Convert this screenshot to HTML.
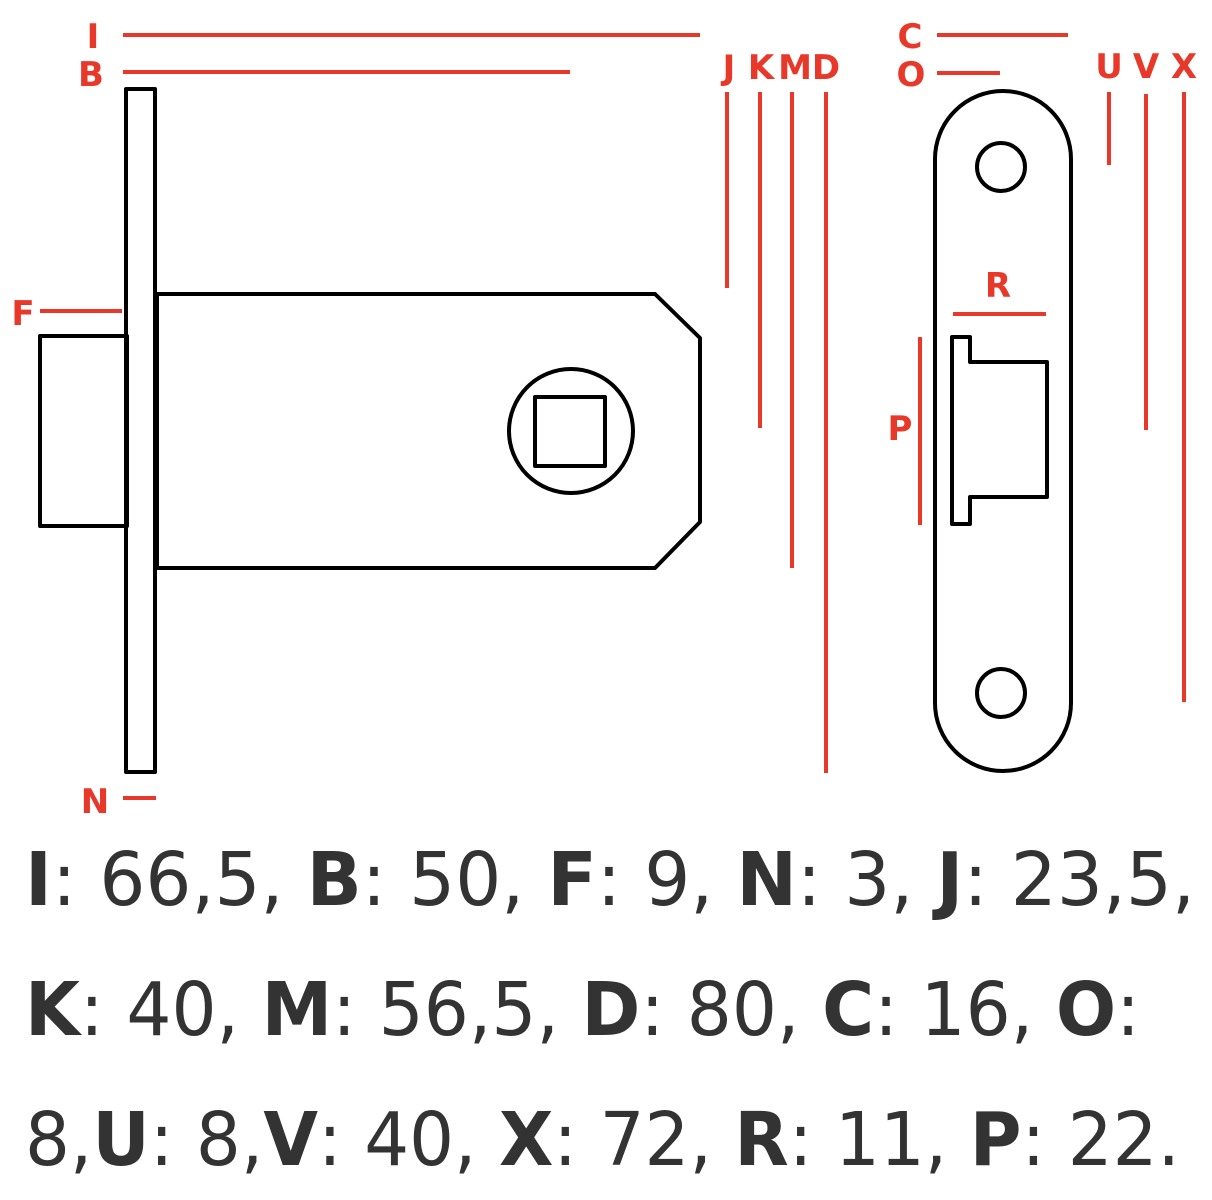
<!DOCTYPE html>
<html><head><meta charset="utf-8"><style>html,body{margin:0;padding:0;background:#fff}svg{display:block}</style></head>
<body>
<svg width="1212" height="1200" viewBox="0 0 1212 1200" xmlns="http://www.w3.org/2000/svg">
<g stroke="#e8382a" stroke-width="4" fill="none">
<line x1="123" y1="35" x2="700" y2="35"/>
<line x1="123" y1="72" x2="570" y2="72"/>
<line x1="40" y1="311" x2="122" y2="311"/>
<line x1="123" y1="798" x2="156" y2="798"/>
<line x1="727" y1="92" x2="727" y2="288"/>
<line x1="760" y1="92" x2="760" y2="428"/>
<line x1="792" y1="92" x2="792" y2="568"/>
<line x1="826" y1="92" x2="826" y2="773"/>
<line x1="937" y1="35" x2="1068" y2="35"/>
<line x1="937" y1="73" x2="1000" y2="73"/>
<line x1="1109" y1="92" x2="1109" y2="165"/>
<line x1="1146" y1="94" x2="1146" y2="430"/>
<line x1="1184" y1="92" x2="1184" y2="702"/>
<line x1="953" y1="314" x2="1046" y2="314"/>
<line x1="920" y1="337" x2="920" y2="525"/>
</g>
<g fill="#e8382a" font-family="'DejaVu Sans',sans-serif" font-weight="bold" font-size="34" text-anchor="middle">
<text x="93" y="48">I</text>
<text x="91" y="86">B</text>
<text x="23" y="325">F</text>
<text x="95" y="813">N</text>
<text x="729" y="79">J</text>
<text x="761" y="79">K</text>
<text x="795" y="79">M</text>
<text x="826" y="79">D</text>
<text x="910" y="48">C</text>
<text x="911" y="86">O</text>
<text x="1109" y="78">U</text>
<text x="1146" y="78">V</text>
<text x="1184" y="78">X</text>
<text x="998" y="297">R</text>
<text x="900" y="440">P</text>
</g>
<g stroke="#000" stroke-width="4" fill="none" stroke-linejoin="round">
<rect x="126" y="89" width="29" height="683"/>
<polygon points="157,294 655,294 700,338 700,522 655,568 157,568"/>
<rect x="40" y="336" width="87" height="190"/>
<circle cx="571" cy="431" r="62"/>
<rect x="535" y="397" width="70" height="69"/>
<rect x="935" y="91" width="136" height="680" rx="68" ry="68"/>
<circle cx="1001" cy="167" r="24"/>
<circle cx="1001" cy="693" r="24"/>
<polygon points="952,337 970,337 970,362 1047,362 1047,497 970,497 970,524 952,524"/>
</g>
<g font-family="'DejaVu Sans',sans-serif" font-size="74" fill="#333">
<text x="25" y="905" textLength="1170" lengthAdjust="spacingAndGlyphs"><tspan font-weight="bold">I</tspan>: 66,5, <tspan font-weight="bold">B</tspan>: 50, <tspan font-weight="bold">F</tspan>: 9, <tspan font-weight="bold">N</tspan>: 3, <tspan font-weight="bold">J</tspan>: 23,5,</text>
<text x="25" y="1035" textLength="1115" lengthAdjust="spacingAndGlyphs"><tspan font-weight="bold">K</tspan>: 40, <tspan font-weight="bold">M</tspan>: 56,5, <tspan font-weight="bold">D</tspan>: 80, <tspan font-weight="bold">C</tspan>: 16, <tspan font-weight="bold">O</tspan>:</text>
<text x="25" y="1165" textLength="1155" lengthAdjust="spacingAndGlyphs">8,<tspan font-weight="bold">U</tspan>: 8,<tspan font-weight="bold">V</tspan>: 40, <tspan font-weight="bold">X</tspan>: 72, <tspan font-weight="bold">R</tspan>: 11, <tspan font-weight="bold">P</tspan>: 22.</text>
</g>
</svg>
</body></html>
